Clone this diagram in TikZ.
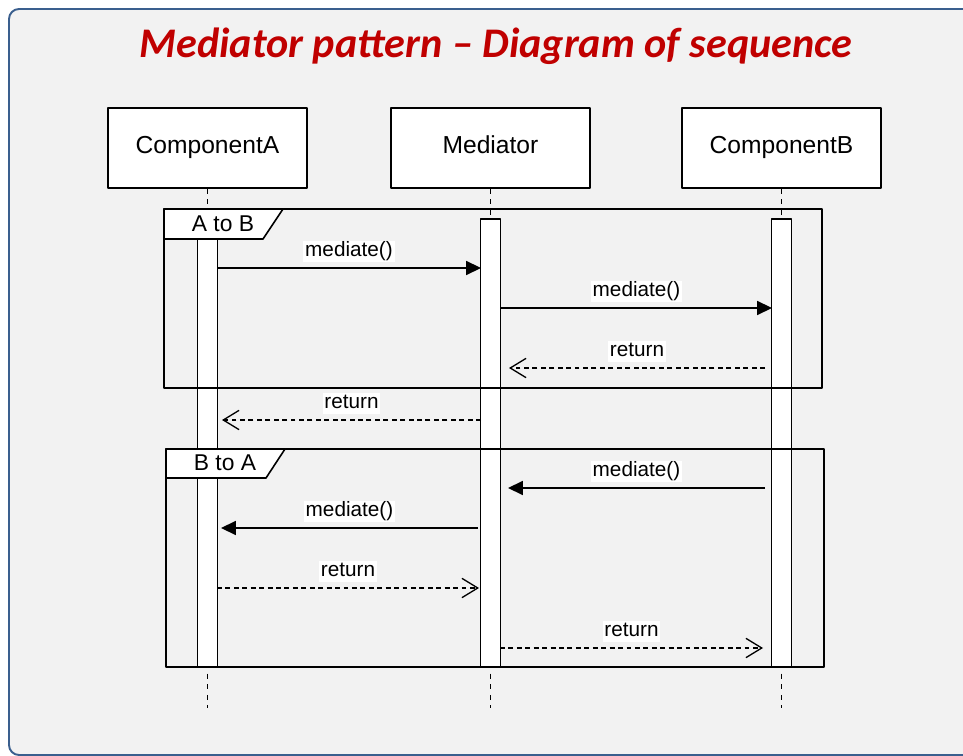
\documentclass[tikz,border=0pt]{standalone}
\usepackage{fontspec}
\setmainfont{Liberation Sans}
\newfontfamily\titlefont{Carlito}
\usetikzlibrary{arrows.meta,positioning}
\definecolor{bgGray}{HTML}{F2F2F2}
\definecolor{frameBlue}{HTML}{3A5F8E}
\definecolor{titleRed}{HTML}{C00000}
\tikzset{
	head/.style={draw,fill=white,line width=0.9pt,minimum width=3.98cm,minimum height=1.6cm,text height=0.72em,text depth=0.08em,font=\fontsize{14}{16}\selectfont},
	life/.style={line width=0.75pt,dash pattern=on 2.8pt off 3.2pt},
	actbar/.style={draw,fill=white,line width=0.9pt,minimum width=0.4cm,inner sep=0pt},
	fragbox/.style={draw,line width=0.9pt},
	fraglbl/.style={font=\fontsize{13}{15}\selectfont},
	call/.style={line width=0.9pt,-{Triangle[length=8.5pt,width=8pt]}},
	reply/.style={line width=0.75pt,dash pattern=on 2.8pt off 2pt,-{Straight Barb[length=9pt,width=11pt]}},
	msg/.style={fill=white,inner sep=1pt,text height=0.78em,text depth=0.24em,font=\fontsize{11.8}{13}\selectfont}
}
\begin{document}
\begin{tikzpicture}[x=0.02cm,y=-0.02cm,line join=round]
	\useasboundingbox (0,0) rectangle (963,756);
	\clip (0,0) rectangle (963,756);
	%Nen va khung ngoai
	\fill[white] (0,0) rectangle (963,756);
	\draw[frameBlue,fill=bgGray,line width=1.1pt,rounded corners=0.2cm] (9,9) rectangle (990,755);
	\node[font=\titlefont\bfseries\itshape\fontsize{24}{28}\selectfont,text=titleRed,anchor=base] (title) at (496,58) {Mediator pattern – Diagram of sequence};
	%Cac doi tuong va duong song
	\foreach \nm/\x/\txt in {A/207.5/ComponentA,M/490.5/Mediator,B/781.5/ComponentB}{
		\node[head] (h\nm) at (\x,148) {\txt};
		\coordinate (e\nm) at (\x,708);
		\draw[life] (h\nm) -- (e\nm);
	}
	%Thanh kich hoat
	\node[actbar,minimum height=8.58cm] (barA) at (207.5,452.5) {};
	\node[actbar,minimum height=8.96cm] (barM) at (490.5,443) {};
	\node[actbar,minimum height=8.96cm] (barB) at (781.5,443) {};
	%Khung A to B
	\draw[fragbox] (164,209) rectangle (822,388);
	\draw[fragbox,fill=white] (164,209) -- (283,209) -- (263,239) -- (164,239) -- cycle;
	\node[fraglbl] (fAB) at (223,224) {A to B};
	%Khung B to A
	\draw[fragbox] (166,449) rectangle (824,667);
	\draw[fragbox,fill=white] (166,449) -- (285,449) -- (266,478) -- (166,478) -- cycle;
	\node[fraglbl] (fBA) at (225,463) {B to A};
	%Cac thong diep
	\foreach \i/\xa/\xb/\y/\sty/\txt in {1/217/481/268/call/mediate(),2/501/772/308/call/mediate(),3/765/509/368/reply/return,4/481/222/420/reply/return,5/765/508/488/call/mediate(),6/478/221/528/call/mediate(),7/217/479/588/reply/return,8/500/763/648/reply/return}{
		\coordinate (s\i) at (\xa,\y);
		\coordinate (t\i) at (\xb,\y);
		\draw[\sty] (s\i) -- (t\i) node[msg,midway,above=0.1cm] {\txt};
	}
\end{tikzpicture}
\end{document}
